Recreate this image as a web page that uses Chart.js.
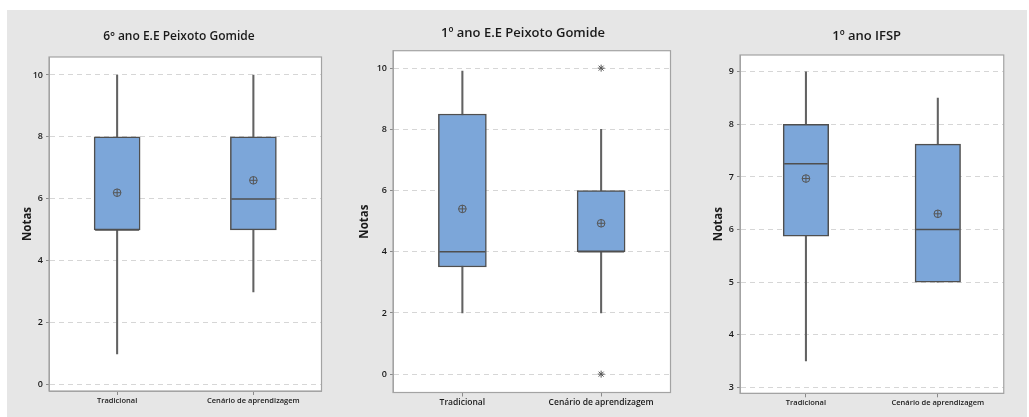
<!DOCTYPE html>
<html>
<head>
<meta charset="utf-8">
<script src="https://cdn.jsdelivr.net/npm/chart.js@4/dist/chart.umd.min.js"></script>
<style>
  html, body { margin: 0; padding: 0; background: #ffffff; width: 1029px; height: 417px; overflow: hidden; }
  #bg { position: absolute; left: 7px; top: 10px; width: 1020px; height: 407px; background: #e6e6e6; }
  canvas { position: absolute; }
</style>
</head>
<body>
<div id="bg"></div>
<canvas id="c1" width="338" height="407" style="left:7px;top:10px"></canvas>
<canvas id="c2" width="350" height="407" style="left:345px;top:10px"></canvas>
<canvas id="c3" width="332" height="407" style="left:695px;top:10px"></canvas>
<script>
// ---- Data ----
const categories = ['Tradicional', 'Cenário de aprendizagem'];
const yAxisTitle = 'Notas';

const title1 = '6º ano E.E Peixoto Gomide';
const min1 = [1, 3];
const q1_1 = [5, 5];
const median1 = [5, 6];
const q3_1 = [8, 8];
const max1 = [10, 10];
const mean1 = [6.2, 6.6];
const outliers1 = [[], []];
const yTicks1 = [0, 2, 4, 6, 8, 10];

const title2 = '1º ano E.E Peixoto Gomide';
const min2 = [2, 2];
const q1_2 = [3.5, 4];
const median2 = [4, 4];
const q3_2 = [8.5, 6];
const max2 = [9.9, 8];
const mean2 = [5.4, 4.93];
const outliers2 = [[], [10, 0]];
const yTicks2 = [0, 2, 4, 6, 8, 10];

const title3 = '1º ano IFSP';
const min3 = [3.5, 5];
const q1_3 = [5.875, 5];
const median3 = [7.25, 6];
const q3_3 = [8, 7.625];
const max3 = [9, 8.5];
const mean3 = [6.97, 6.3];
const outliers3 = [[], []];
const yTicks3 = [3, 4, 5, 6, 7, 8, 9];

// ---- Styles ----
const FONT = '"Open Sans", "Noto Sans", sans-serif';
const BOX_FILL = '#7ca6d9';
const DARK = '#4f4f4f';
const WHISKER = '#626262';

const framePlugin = {
  id: 'frame',
  beforeDraw(chart) {
    const a = chart.chartArea, ctx = chart.ctx;
    ctx.save();
    ctx.fillStyle = '#ffffff';
    ctx.fillRect(a.left, a.top, a.right - a.left, a.bottom - a.top);
    ctx.restore();
  },
  afterDraw(chart) {
    const a = chart.chartArea, ctx = chart.ctx;
    ctx.save();
    ctx.strokeStyle = '#a3a3a3';
    ctx.lineWidth = 1.2;
    ctx.strokeRect(a.left, a.top, a.right - a.left, a.bottom - a.top);
    ctx.restore();
  }
};

function makeChart(id, cfg) {
  const d = cfg.data;
  const whiskers = categories.map((c, i) => [d.min[i], d.max[i]]);
  const boxes = categories.map((c, i) => [d.q1[i], d.q3[i]]);
  const medians = categories.map((c, i) => ({ x: c, y: d.median[i] }));
  const means = categories.map((c, i) => ({ x: c, y: d.mean[i] }));
  const outl = [];
  categories.forEach((c, i) => d.outliers[i].forEach(v => outl.push({ x: c, y: v })));

  return new Chart(document.getElementById(id), {
    type: 'bar',
    data: {
      labels: categories,
      datasets: [
        { type: 'bar', data: whiskers, backgroundColor: WHISKER, barThickness: 1.4, grouped: false, order: 10 },
        { type: 'bar', data: boxes, backgroundColor: BOX_FILL, borderColor: DARK, borderWidth: 1.5,
          borderSkipped: false, barThickness: cfg.boxW, grouped: false, order: 9 },
        { type: 'line', data: medians, showLine: false, pointStyle: 'line', pointRadius: cfg.boxW / 2 - 1,
          borderColor: DARK, pointBorderWidth: 1.5, borderWidth: 1.5, order: 5 },
        { type: 'line', data: means, showLine: false, pointStyle: 'circle', pointRadius: 3.8,
          pointBackgroundColor: 'rgba(0,0,0,0)', pointBorderColor: '#555', pointBorderWidth: 1, order: 4 },
        { type: 'line', data: means, showLine: false, pointStyle: 'cross', pointRadius: 3.8,
          pointBorderColor: '#555', pointBorderWidth: 1, order: 3 },
        { type: 'line', data: outl, showLine: false, pointStyle: 'star', pointRadius: 3.5,
          pointBorderColor: '#555', pointBorderWidth: 1, order: 2 }
      ]
    },
    options: {
      responsive: false,
      animation: false,
      devicePixelRatio: 1,
      layout: { padding: { left: cfg.padLeft, right: cfg.padRight, top: 0, bottom: 0 } },
      plugins: {
        legend: { display: false },
        tooltip: { enabled: false },
        title: {
          display: true, text: cfg.title, color: '#1a1a1a',
          font: { family: FONT, size: cfg.titleSize, weight: '600', lineHeight: 1.2 },
          padding: { top: cfg.titleTop, bottom: cfg.titleBottom }
        }
      },
      scales: {
        x: {
          type: 'category', offset: true,
          grid: { display: true, drawOnChartArea: false, offset: false, drawTicks: true, tickLength: 4, tickColor: '#8a8a8a' },
          border: { display: true, color: '#a3a3a3' },
          ticks: { color: '#1a1a1a', font: { family: FONT, size: cfg.xFont, weight: '600' }, padding: 1, maxRotation: 0, autoSkip: false },
          afterFit(s) { s.height = cfg.xH; s.paddingLeft = 0; s.paddingRight = 0; }
        },
        y: {
          min: cfg.yMin, max: cfg.yMax,
          afterBuildTicks(s) { s.ticks = cfg.yTicks.map(v => ({ value: v })); },
          grid: { color: '#d6d6d6', tickBorderDash: [], tickColor: '#8a8a8a', tickLength: 3, lineWidth: 1 },
          border: { display: true, color: '#a3a3a3', dash: [5, 4] },
          ticks: { color: '#1a1a1a', font: { family: FONT, size: 9, weight: '600' }, padding: 3 },
          title: { display: true, text: yAxisTitle, color: '#1a1a1a', font: { family: FONT, size: 11.5, weight: '700' }, padding: { top: cfg.notasPad, bottom: 0 } },
          afterFit(s) { s.width = cfg.yW; s.paddingTop = 0; s.paddingBottom = 0; }
        }
      }
    },
    plugins: [framePlugin]
  });
}

makeChart('c1', {
  title: title1, titleSize: 12, titleTop: 19.8, titleBottom: 12.8,
  data: { min: min1, q1: q1_1, median: median1, q3: q3_1, max: max1, mean: mean1, outliers: outliers1 },
  yMin: -0.2, yMax: 10.58, yTicks: yTicks1, padLeft: 23, yW: 19, xH: 26, padRight: 17, boxW: 46, xFont: 7.5, notasPad: -9
});
makeChart('c2', {
  title: title2, titleSize: 13, titleTop: 15.2, titleBottom: 9.9,
  data: { min: min2, q1: q1_2, median: median2, q3: q3_2, max: max2, mean: mean2, outliers: outliers2 },
  yMin: -0.6, yMax: 10.57, yTicks: yTicks2, padLeft: 23, yW: 25, xH: 21.3, padRight: 17, boxW: 48, xFont: 8.5, notasPad: -10
});
makeChart('c3', {
  title: title3, titleSize: 13, titleTop: 18.2, titleBottom: 11.2,
  data: { min: min3, q1: q1_3, median: median3, q3: q3_3, max: max3, mean: mean3, outliers: outliers3 },
  yMin: 2.886, yMax: 9.32, yTicks: yTicks3, padLeft: 26, yW: 19, xH: 23.7, padRight: 14.7, boxW: 45.5, xFont: 7.5, notasPad: -9
});
</script>
</body>
</html>
